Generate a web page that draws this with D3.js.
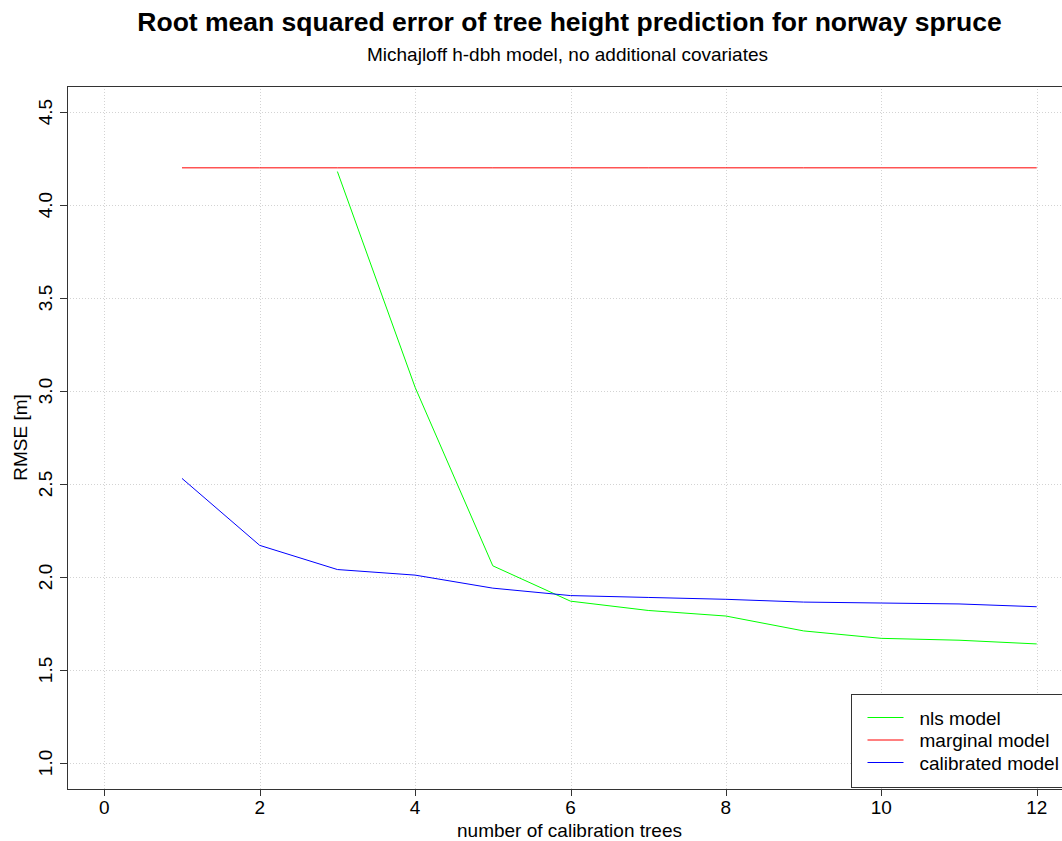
<!DOCTYPE html>
<html>
<head>
<meta charset="utf-8">
<script src="https://cdn.jsdelivr.net/npm/d3@7"></script>
<style>
  html, body { margin: 0; padding: 0; background: #fff; }
  svg { display: block; font-family: 'Liberation Sans', Arial, sans-serif; }
</style>
</head>
<body>
<div id="chart"></div>
<script>
// number of calibration trees
const trees = [1, 2, 3, 4, 5, 6, 7, 8, 9, 10, 11, 12]
const nlsTrees = [3, 4, 5, 6, 7, 8, 9, 10, 11, 12]
// RMSE [m]
const nlsRmse = [4.18, 3.02, 2.06, 1.87, 1.82, 1.79, 1.71, 1.67, 1.66, 1.64]
const marginalRmse = [4.20, 4.20, 4.20, 4.20, 4.20, 4.20, 4.20, 4.20, 4.20, 4.20, 4.20, 4.20]
const calibratedRmse = [2.53, 2.17, 2.04, 2.01, 1.94, 1.90, 1.89, 1.88, 1.865, 1.86, 1.855, 1.84]

const xTicks = [0, 2, 4, 6, 8, 10, 12]
const yTicks = [1.0, 1.5, 2.0, 2.5, 3.0, 3.5, 4.0, 4.5]
const xLim = [0, 12]
const yLim = [1.0, 4.5]

const legendItems = [
  { label: 'nls model', color: '#00ff00' },
  { label: 'marginal model', color: '#ff0000' },
  { label: 'calibrated model', color: '#0000ff' }
]

const width = 1062
const height = 841
const plot = { left: 67, top: 86, right: 1074, bottom: 789 }

// R-style 4% padding of the axis ranges
const pad = (lim) => { const r = lim[1] - lim[0]; return [lim[0] - 0.04 * r, lim[1] + 0.04 * r] }

const x = d3.scaleLinear().domain(pad(xLim)).range([plot.left, plot.right])
const y = d3.scaleLinear().domain(pad(yLim)).range([plot.bottom, plot.top])

const svg = d3.select('#chart').append('svg')
  .attr('width', width).attr('height', height)

// grid
const grid = svg.append('g').attr('stroke', '#d3d3d3').attr('stroke-dasharray', '1,2')
grid.selectAll('line.gx').data(xTicks).join('line').attr('class', 'gx')
  .attr('x1', d => Math.round(x(d)) + 0.5).attr('x2', d => Math.round(x(d)) + 0.5)
  .attr('y1', plot.top).attr('y2', plot.bottom)
grid.selectAll('line.gy').data(yTicks).join('line').attr('class', 'gy')
  .attr('y1', d => Math.round(y(d)) + 0.5).attr('y2', d => Math.round(y(d)) + 0.5)
  .attr('x1', plot.left).attr('x2', plot.right)

// series
const line = (xs, ys) => d3.line().x((d, i) => x(xs[i])).y(d => y(d))(ys)
svg.append('path').attr('d', line(trees, marginalRmse))
  .attr('fill', 'none').attr('stroke', '#ff0000').attr('stroke-width', 1)
svg.append('path').attr('d', line(nlsTrees, nlsRmse))
  .attr('fill', 'none').attr('stroke', '#00ff00').attr('stroke-width', 1)
svg.append('path').attr('d', line(trees, calibratedRmse))
  .attr('fill', 'none').attr('stroke', '#0000ff').attr('stroke-width', 1)

// box
svg.append('rect')
  .attr('x', plot.left + 0.5).attr('y', plot.top + 0.5)
  .attr('width', plot.right - plot.left).attr('height', plot.bottom - plot.top)
  .attr('fill', 'none').attr('stroke', '#333').attr('stroke-width', 1)

// x axis
const xAxis = svg.append('g')
xAxis.selectAll('line').data(xTicks).join('line')
  .attr('x1', d => Math.round(x(d)) + 0.5).attr('x2', d => Math.round(x(d)) + 0.5)
  .attr('y1', plot.bottom).attr('y2', plot.bottom + 7)
  .attr('stroke', '#333')
xAxis.selectAll('text').data(xTicks).join('text')
  .attr('x', d => x(d)).attr('y', 814)
  .attr('text-anchor', 'middle').style('font-size', '19px').attr('fill', '#000')
  .text(d => d)

// y axis
const yAxis = svg.append('g')
yAxis.selectAll('line').data(yTicks).join('line')
  .attr('y1', d => Math.round(y(d)) + 0.5).attr('y2', d => Math.round(y(d)) + 0.5)
  .attr('x1', plot.left - 7).attr('x2', plot.left)
  .attr('stroke', '#333')
yAxis.selectAll('text').data(yTicks).join('text')
  .attr('transform', d => `translate(52,${y(d)}) rotate(-90)`)
  .attr('text-anchor', 'middle').style('font-size', '19px').attr('fill', '#000')
  .text(d => d.toFixed(1))

// titles
const cx = (plot.left + plot.right) / 2
svg.append('text').attr('x', cx - 1).attr('y', 31)
  .attr('text-anchor', 'middle').style('font-size', '26.5px').style('font-weight', 'bold')
  .text('Root mean squared error of tree height prediction for norway spruce')
svg.append('text').attr('x', cx - 3).attr('y', 61)
  .attr('text-anchor', 'middle').style('font-size', '19px')
  .text('Michajloff h-dbh model, no additional covariates')
svg.append('text').attr('x', cx - 1).attr('y', 837)
  .attr('text-anchor', 'middle').style('font-size', '19px')
  .text('number of calibration trees')
svg.append('text').attr('transform', `translate(27,${(plot.top + plot.bottom) / 2}) rotate(-90)`)
  .attr('text-anchor', 'middle').style('font-size', '19px')
  .text('RMSE [m]')

// legend (bottom right)
const lg = svg.append('g').attr('transform', `translate(851.5,694.5)`)
lg.append('rect').attr('width', plot.right - 851).attr('height', 93)
  .attr('fill', '#fff').attr('stroke', '#333')
legendItems.forEach((d, i) => {
  const ly = 23 + i * 22.5
  lg.append('line').attr('x1', 16).attr('x2', 52).attr('y1', ly).attr('y2', ly)
    .attr('stroke', d.color)
  lg.append('text').attr('x', 68).attr('y', ly + 7).style('font-size', '19px').text(d.label)
})
</script>
</body>
</html>
